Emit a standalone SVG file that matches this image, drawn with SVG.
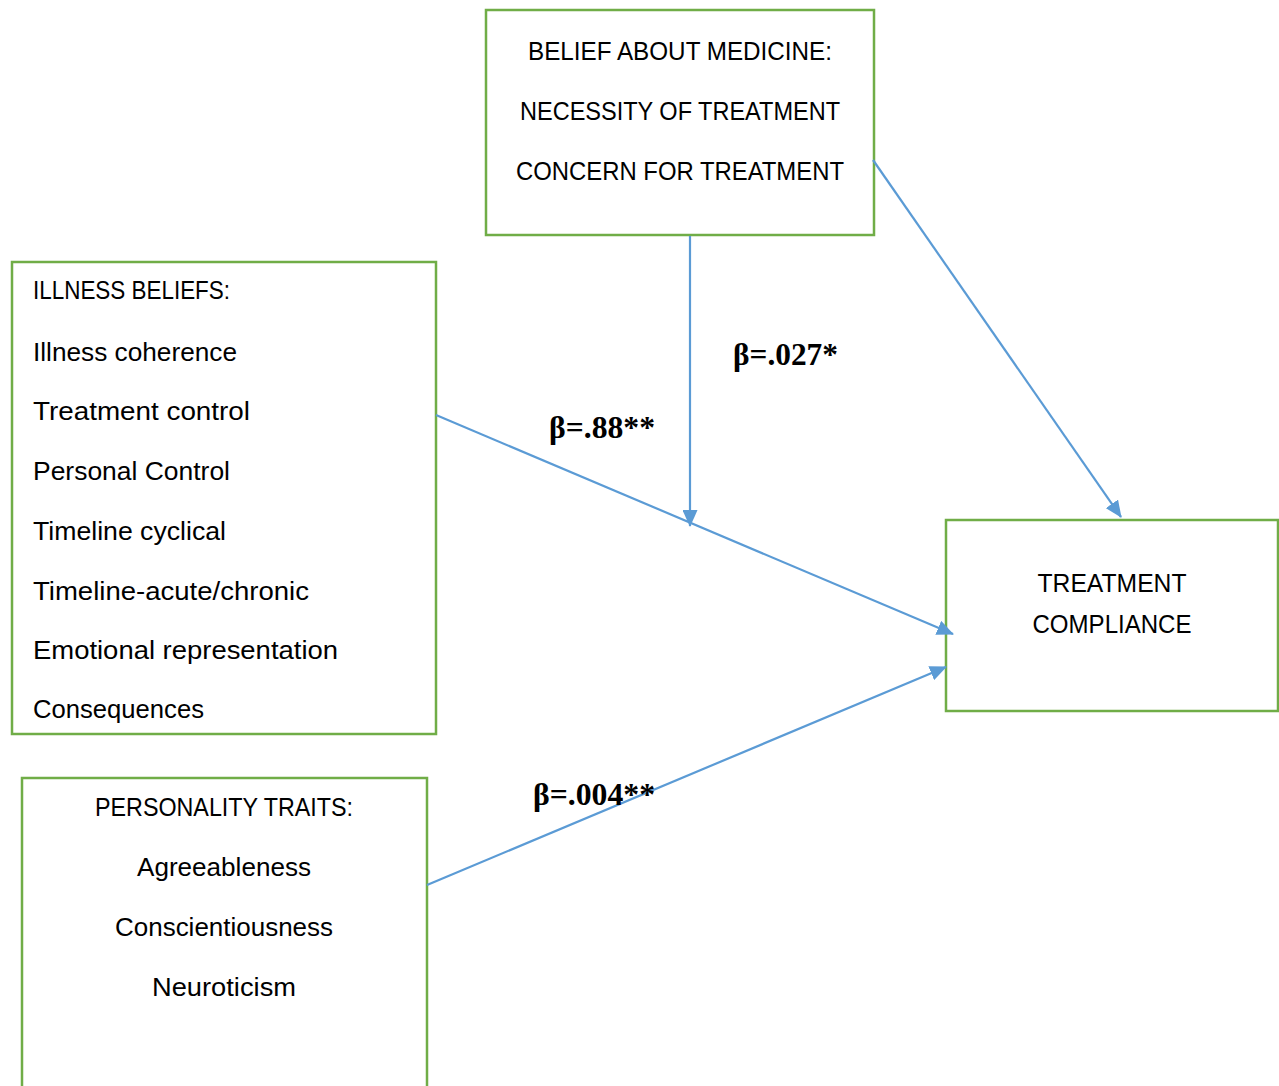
<svg xmlns="http://www.w3.org/2000/svg" width="1279" height="1086" viewBox="0 0 1279 1086">
<style>
.box{fill:#fff;stroke:#70AD47;stroke-width:2.5}
.t{font-family:"Liberation Sans",Arial,sans-serif;font-size:25px;fill:#000}
.c{text-anchor:middle}
.b{font-family:"Liberation Serif","Times New Roman",serif;font-weight:bold;font-size:31px;fill:#000}
.ln{stroke:#5B9BD5;stroke-width:2.2;fill:none;marker-end:url(#ah)}
</style>
<defs>
<marker id="ah" markerUnits="userSpaceOnUse" markerWidth="17" markerHeight="15" refX="16" refY="7.5" orient="auto">
<path d="M0,0 L17,7.5 L0,15 Z" fill="#5B9BD5"/>
</marker>
</defs>
<rect width="1279" height="1086" fill="#fff"/>
<g id="belief">
<rect class="box" x="486" y="10" width="388" height="225"/>
<text class="t c" x="680" y="60" textLength="304" lengthAdjust="spacingAndGlyphs">BELIEF ABOUT MEDICINE:</text>
<text class="t c" x="680" y="120" textLength="320" lengthAdjust="spacingAndGlyphs">NECESSITY OF TREATMENT</text>
<text class="t c" x="680" y="180" textLength="328" lengthAdjust="spacingAndGlyphs">CONCERN FOR TREATMENT</text>
</g>
<g id="illness">
<rect class="box" x="12" y="262" width="424" height="472"/>
<text class="t" x="33" y="299" textLength="197" lengthAdjust="spacingAndGlyphs">ILLNESS BELIEFS:</text>
<text class="t" x="33" y="361" textLength="204" lengthAdjust="spacingAndGlyphs">Illness coherence</text>
<text class="t" x="33" y="420" textLength="217" lengthAdjust="spacingAndGlyphs">Treatment control</text>
<text class="t" x="33" y="480" textLength="197" lengthAdjust="spacingAndGlyphs">Personal Control</text>
<text class="t" x="33" y="540" textLength="193" lengthAdjust="spacingAndGlyphs">Timeline cyclical</text>
<text class="t" x="33" y="600" textLength="276" lengthAdjust="spacingAndGlyphs">Timeline-acute/chronic</text>
<text class="t" x="33" y="659" textLength="305" lengthAdjust="spacingAndGlyphs">Emotional representation</text>
<text class="t" x="33" y="718" textLength="171" lengthAdjust="spacingAndGlyphs">Consequences</text>
</g>
<g id="personality">
<rect class="box" x="22" y="778" width="405" height="320"/>
<text class="t c" x="224" y="816" textLength="258" lengthAdjust="spacingAndGlyphs">PERSONALITY TRAITS:</text>
<text class="t c" x="224" y="876" textLength="174" lengthAdjust="spacingAndGlyphs">Agreeableness</text>
<text class="t c" x="224" y="936" textLength="218" lengthAdjust="spacingAndGlyphs">Conscientiousness</text>
<text class="t c" x="224" y="996" textLength="144" lengthAdjust="spacingAndGlyphs">Neuroticism</text>
</g>
<g id="compliance">
<rect class="box" x="946" y="520" width="332" height="191"/>
<text class="t c" x="1112" y="592" textLength="149" lengthAdjust="spacingAndGlyphs">TREATMENT</text>
<text class="t c" x="1112" y="633" textLength="159" lengthAdjust="spacingAndGlyphs">COMPLIANCE</text>
</g>
<g id="connectors">
<line class="ln" x1="873" y1="160" x2="1121" y2="517"/>
<line class="ln" x1="690" y1="236" x2="690" y2="526"/>
<line class="ln" x1="436" y1="415" x2="953" y2="634"/>
<line class="ln" x1="427" y1="885" x2="946" y2="667"/>
</g>
<g id="labels">
<text class="b" x="733" y="365" textLength="105" lengthAdjust="spacingAndGlyphs">β=.027*</text>
<text class="b" x="549" y="438" textLength="106" lengthAdjust="spacingAndGlyphs">β=.88**</text>
<text class="b" x="533" y="805" textLength="122" lengthAdjust="spacingAndGlyphs">β=.004**</text>
</g>
</svg>
